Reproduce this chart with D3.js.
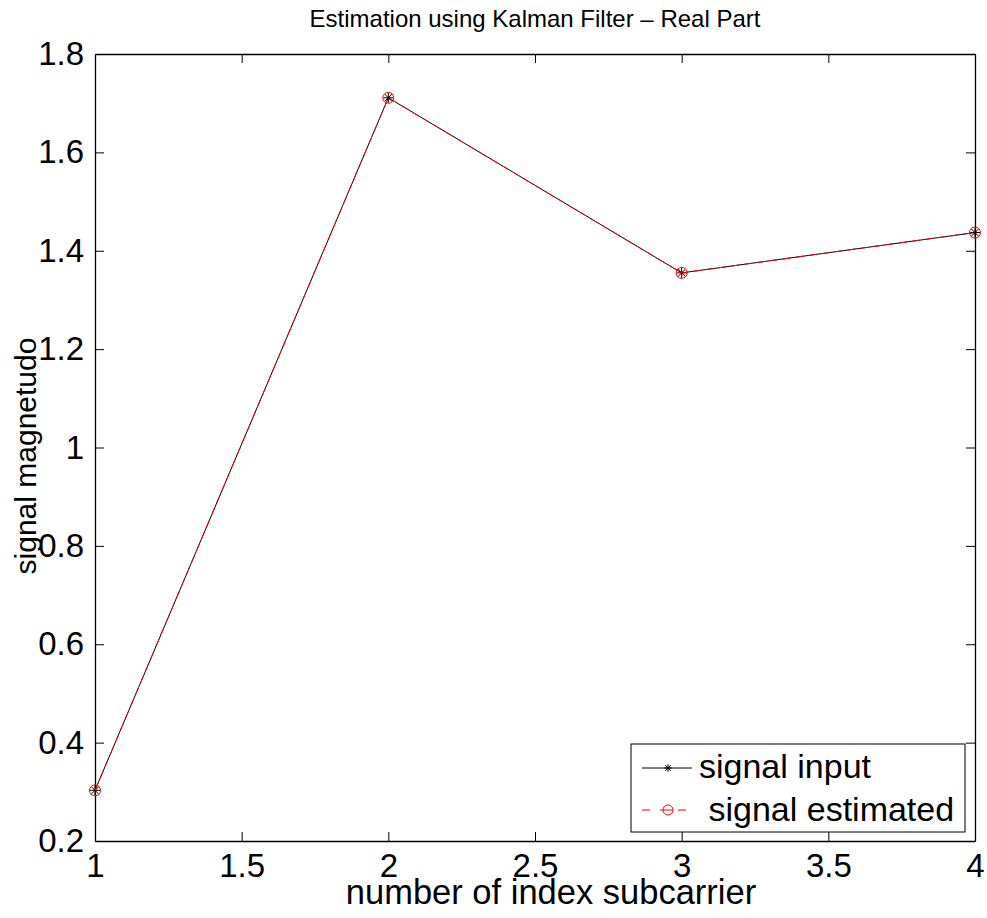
<!DOCTYPE html>
<html>
<head>
<meta charset="utf-8">
<script src="https://cdn.jsdelivr.net/npm/d3@7"></script>
<style>
  body { margin: 0; background: #fff; }
  text { font-family: "Liberation Sans", Arial, sans-serif; fill: #000; }
</style>
</head>
<body>
<div id="chart"></div>
<script>
// data
const subcarrier = [1, 2, 3, 4];
const signalInput = [0.303, 1.711, 1.355, 1.437];
const signalEstimated = [0.303, 1.711, 1.355, 1.437];
const xTicks = [1, 1.5, 2, 2.5, 3, 3.5, 4];
const yTicks = [0.2, 0.4, 0.6, 0.8, 1, 1.2, 1.4, 1.6, 1.8];
const seriesNames = ["signal input", " signal estimated"];

const width = 987, height = 918;
const margin = { top: 54, right: 12, bottom: 77, left: 95 };
const innerWidth = width - margin.left - margin.right;
const innerHeight = height - margin.top - margin.bottom;
const tickFont = "33px";

const svg = d3.select("#chart").append("svg")
  .attr("width", width).attr("height", height);

const g = svg.append("g")
  .attr("transform", `translate(${margin.left},${margin.top})`);

const x = d3.scaleLinear().domain([1, 4]).range([0, innerWidth]);
const y = d3.scaleLinear().domain([0.2, 1.8]).range([innerHeight, 0]);

const fmt = d => String(+d.toFixed(1));
const tickLen = 9;

// axes, matlab style: ticks pointing inward on all four sides
g.append("g")
  .attr("transform", `translate(0,${innerHeight})`)
  .call(d3.axisBottom(x).tickValues(xTicks).tickFormat(fmt).tickSizeInner(-tickLen).tickSizeOuter(0))
  .call(a => a.selectAll("text").style("font-size", tickFont).attr("y", 36).attr("dy", null));

g.append("g")
  .call(d3.axisTop(x).tickValues(xTicks).tickFormat("").tickSizeInner(-tickLen).tickSizeOuter(0));

g.append("g")
  .call(d3.axisLeft(y).tickValues(yTicks).tickFormat(fmt).tickSizeInner(-tickLen).tickSizeOuter(0))
  .call(a => a.selectAll("text").style("font-size", tickFont).attr("x", -11));

g.append("g")
  .attr("transform", `translate(${innerWidth},0)`)
  .call(d3.axisRight(y).tickValues(yTicks).tickFormat("").tickSizeInner(-tickLen).tickSizeOuter(0));

g.selectAll(".domain").attr("stroke", "#000").attr("stroke-width", 1.3);
g.selectAll(".tick line").attr("stroke", "#000");

// title and labels
svg.append("text")
  .attr("x", margin.left + innerWidth / 2).attr("y", 27)
  .attr("text-anchor", "middle").style("font-size", "24px")
  .text("Estimation using Kalman Filter \u2013 Real Part");

svg.append("text")
  .attr("x", margin.left + innerWidth / 2 + 16).attr("y", 904)
  .attr("text-anchor", "middle").style("font-size", "34.5px")
  .text("number of index subcarrier");

svg.append("text")
  .attr("transform", `translate(36,456) rotate(-90)`)
  .attr("text-anchor", "middle").style("font-size", "30px")
  .text("signal magnetudo");

// series
const line = d3.line().x(d => x(d[0])).y(d => y(d[1]));
const inputPts = subcarrier.map((s, i) => [s, signalInput[i]]);
const estPts = subcarrier.map((s, i) => [s, signalEstimated[i]]);

function asterisk(sel, r) {
  const d = r * 0.72;
  sel.append("path")
    .attr("d", `M${-r},0H${r}M0,${-r}V${r}M${-d},${-d}L${d},${d}M${-d},${d}L${d},${-d}`)
    .attr("stroke", "#000").attr("stroke-width", 1).attr("fill", "none");
}

g.append("path").datum(inputPts).attr("d", line)
  .attr("fill", "none").attr("stroke", "#000").attr("stroke-width", 1);

g.selectAll(".star").data(inputPts).enter().append("g")
  .attr("transform", d => `translate(${x(d[0])},${y(d[1])})`)
  .each(function () { asterisk(d3.select(this), 5); });

g.append("path").datum(estPts).attr("d", line)
  .attr("fill", "none").attr("stroke", "#ff0000").attr("stroke-width", 1)
  .attr("stroke-dasharray", "8,5");

g.selectAll(".circ").data(estPts).enter().append("circle")
  .attr("cx", d => x(d[0])).attr("cy", d => y(d[1])).attr("r", 5.5)
  .attr("fill", "none").attr("stroke", "#ff0000").attr("stroke-width", 1);

// legend
const legend = svg.append("g").attr("transform", "translate(631,744)");
legend.append("rect")
  .attr("width", 334).attr("height", 88)
  .attr("fill", "#fff").attr("stroke", "#000").attr("stroke-width", 1);

const row1 = legend.append("g").attr("transform", "translate(0,24)");
row1.append("line").attr("x1", 11).attr("x2", 61)
  .attr("stroke", "#000").attr("stroke-width", 1);
asterisk(row1.append("g").attr("transform", "translate(37,0)"), 4);
row1.append("text").attr("x", 68).attr("y", 10).style("font-size", "34px").text(seriesNames[0]);

const row2 = legend.append("g").attr("transform", "translate(0,66)");
row2.append("line").attr("x1", 11).attr("x2", 61)
  .attr("stroke", "#ff0000").attr("stroke-width", 1).attr("stroke-dasharray", "8,10");
row2.append("circle").attr("cx", 37).attr("r", 5)
  .attr("fill", "#fff").attr("stroke", "#ff0000").attr("stroke-width", 1);
row2.append("line").attr("x1", 32).attr("x2", 42)
  .attr("stroke", "#ff0000").attr("stroke-width", 1);
row2.append("text").attr("x", 68).attr("y", 11).attr("xml:space", "preserve")
  .style("font-size", "34px").style("white-space", "pre").text(seriesNames[1]);
</script>
</body>
</html>
